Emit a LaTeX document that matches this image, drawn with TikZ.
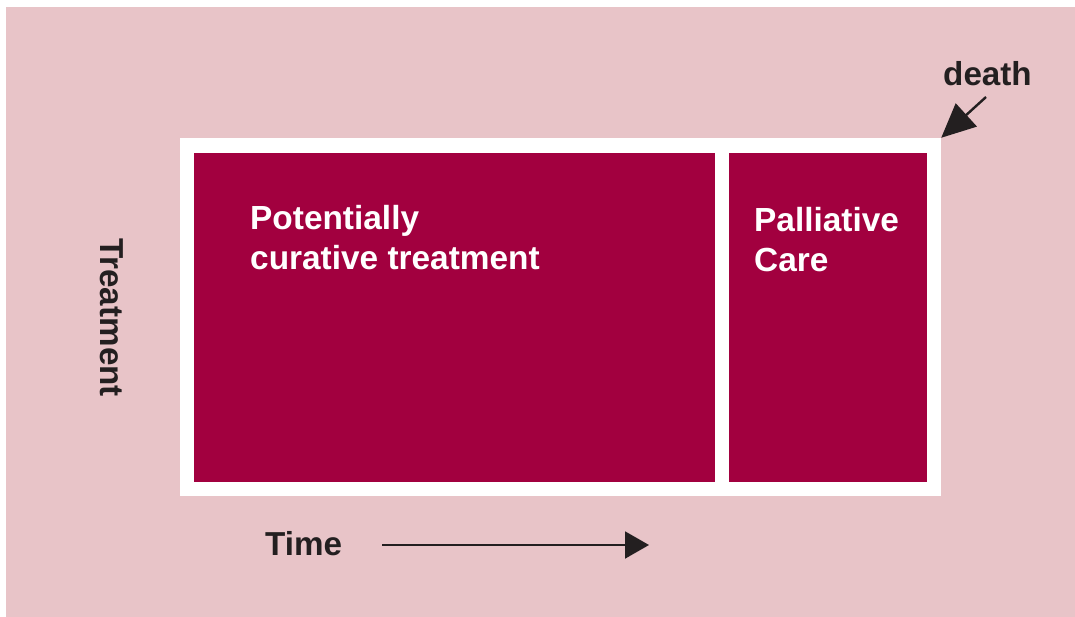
\documentclass[tikz,border=0pt]{standalone}
\usepackage{fontspec}
\setmainfont{Liberation Sans}
\usetikzlibrary{arrows.meta}
\definecolor{bgpink}{HTML}{E8C4C8}
\definecolor{boxred}{HTML}{A2003F}
\definecolor{inkdark}{HTML}{231F20}
\begin{document}
\begin{tikzpicture}[x=1pt,y=-1pt,
  panel/.style={fill=boxred, draw=none, inner sep=0pt, outer sep=0pt},
  boxtext/.style={text=white, font=\fontsize{33.4}{40}\selectfont\bfseries, align=left, inner sep=0pt, anchor=north west},
  label/.style={text=inkdark, font=\fontsize{33.2}{40}\selectfont\bfseries, inner sep=0pt},
  arrowline/.style={draw=inkdark, line width=2pt}
]
\useasboundingbox (0,0) rectangle (1075,617);
\fill[white] (0,0) rectangle (1075,617);
\node[fill=bgpink, inner sep=0pt, minimum width=1069pt, minimum height=610pt, anchor=north west] (bg) at (6,7) {};
\node[fill=white, inner sep=0pt, minimum width=761pt, minimum height=358pt] (frame) at (560.5,317) {};
\node[panel, minimum width=521pt, minimum height=329pt] (curative) at (454.5,317.5) {};
\node[panel, minimum width=198pt, minimum height=329pt] (palliative) at (828,317.5) {};
\node[boxtext] (curtext) at (250,205) {Potentially\\curative treatment};
\node[boxtext] (paltext) at (754,207) {Palliative\\Care};
\node[label, anchor=base, rotate=-90] (treat) at (100,317.5) {Treatment};
\node[label, anchor=base west] (time) at (265,555) {Time};
\node[label, anchor=base west] (death) at (943,86) {death};
\coordinate (deathstart) at (986,97);
\draw[arrowline, line width=2.4pt, -{Triangle[length=34pt,width=31pt]}] (deathstart) -- (frame.north east);
\coordinate (timestart) at (382,545);
\coordinate (timeend) at (649,545);
\draw[arrowline, -{Triangle[length=24pt,width=27pt]}] (timestart) -- (timeend);
\end{tikzpicture}
\end{document}
